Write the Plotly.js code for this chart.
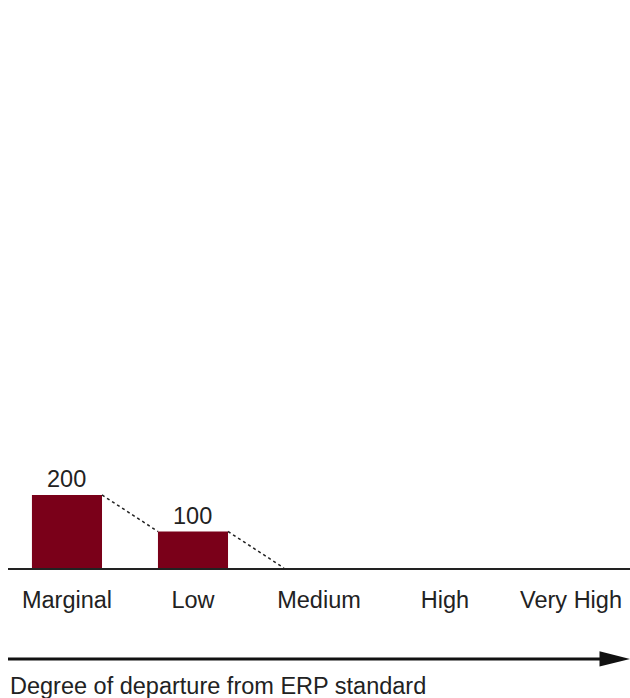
<!DOCTYPE html>
<html>
<head>
<meta charset="utf-8">
<script src="https://cdn.plot.ly/plotly-3.0.1.min.js"></script>
<style>html,body{margin:0;padding:0;background:#fff;}#chart{width:630px;height:698px;}</style>
</head>
<body>
<div id="chart"></div>
<script>
const categories = ["Marginal", "Low", "Medium", "High", "Very High"];
const values = [200, 100, 0, 0, 0];
const axisTitle = "Degree of departure from ERP standard";

const barWidth = 0.556;
const xs = categories.map((c, i) => i);

// dotted connectors: right top of bar i to left top of bar i+1
const connectors = [];
for (let i = 0; i < values.length - 1; i++) {
  if (values[i] > 0) {
    connectors.push({
      type: 'scatter', mode: 'lines',
      x: [xs[i] + barWidth / 2, xs[i + 1] - barWidth / 2],
      y: [values[i], values[i + 1]],
      line: {color: '#222', width: 1.5, dash: 'dot'},
      hoverinfo: 'skip', showlegend: false, cliponaxis: false
    });
  }
}

const traces = [{
  type: 'bar', x: xs, y: values, width: barWidth,
  marker: {color: '#7a0019'}, hoverinfo: 'skip', showlegend: false
}].concat(connectors);

const font = {family: '"Liberation Sans", Arial, Helvetica, sans-serif', size: 23.5, color: '#222'};

const annotations = values.map((v, i) => v > 0 ? {
  x: xs[i], y: v, xref: 'x', yref: 'y', text: String(v), showarrow: false,
  yanchor: 'bottom', yshift: 1, font: font
} : null).filter(a => a);

annotations.push({
  x: 0, y: -0.207, xref: 'paper', yref: 'paper', xanchor: 'left', yanchor: 'middle',
  text: axisTitle, showarrow: false, font: font
});

const layout = {
  width: 630, height: 698,
  margin: {l: 8, r: 0, t: 0, b: 130},
  paper_bgcolor: '#fff', plot_bgcolor: '#fff',
  font: font,
  xaxis: {
    range: [-0.468, 4.468], tickvals: xs, ticktext: categories,
    showgrid: false, zeroline: false, showline: true, linecolor: '#222', linewidth: 2,
    ticks: '', tickfont: font, ticklabelstandoff: 10, fixedrange: true
  },
  yaxis: {
    range: [0, 1556], visible: false, showgrid: false, zeroline: false, fixedrange: true
  },
  annotations: annotations,
  shapes: [
    {type: 'line', xref: 'paper', yref: 'paper', x0: 0, x1: 0.955, y0: -0.160, y1: -0.160,
     line: {color: '#111', width: 3}},
    {type: 'path', xref: 'paper', yref: 'paper',
     path: 'M 0.951,-0.1465 L 1.0,-0.160 L 0.951,-0.1735 Z',
     fillcolor: '#111', line: {color: '#111', width: 0}}
  ]
};

Plotly.newPlot('chart', traces, layout, {staticPlot: true, displayModeBar: false});
</script>
</body>
</html>
